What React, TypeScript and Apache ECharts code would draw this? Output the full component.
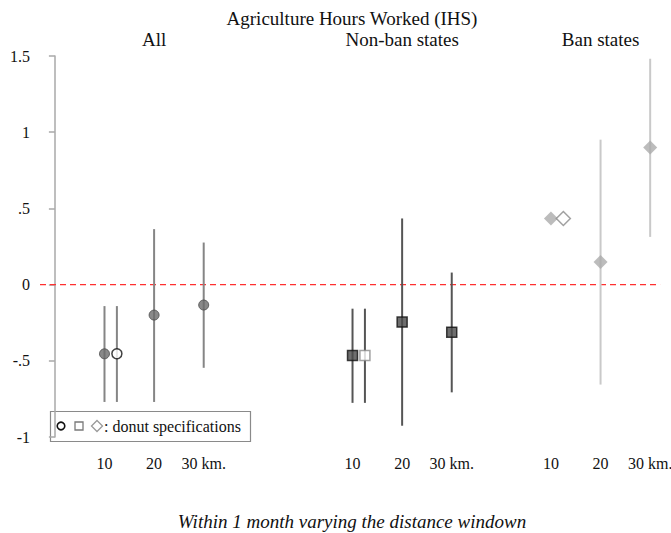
import React, { useEffect, useRef } from "react";
import * as echarts from "echarts";

// Point estimates and 95% CIs; index 1 in each group is the donut specification
const distanceLabels = ["10", "20", "30 km."];
const yTickLabels: Record<string, string> = { "-1": "-1", "-0.5": "-.5", "0": "0", "0.5": ".5", "1": "1", "1.5": "1.5" };

const allX = [1, 1.25, 2, 3];
const allEst = [-0.454, -0.454, -0.2, -0.134];
const allLo = [-0.77, -0.77, -0.77, -0.546];
const allHi = [-0.141, -0.141, 0.364, 0.276];

const nonBanX = [6, 6.25, 7, 8];
const nonBanEst = [-0.465, -0.465, -0.246, -0.312];
const nonBanLo = [-0.776, -0.776, -0.926, -0.707];
const nonBanHi = [-0.158, -0.158, 0.434, 0.079];

const banX = [10, 10.25, 11, 12];
const banEst = [0.434, 0.434, 0.149, 0.899];
const banLo: (number | null)[] = [null, null, -0.656, 0.313];
const banHi: (number | null)[] = [null, null, 0.951, 1.482];

const groupTitles = ["All", "Non-ban states", "Ban states"];

const SERIF = "Liberation Serif";

type Style = { bar: string; fill: string; border: string; borderW: number; symbol: string; size: number; donutBorder: string };

const styles: Style[] = [
  { bar: "#858585", fill: "#6b6b6b", border: "#4a4a4a", borderW: 1, symbol: "circle", size: 10, donutBorder: "#111" },
  { bar: "#555555", fill: "#4a4a4a", border: "#111111", borderW: 1.5, symbol: "rect", size: 10, donutBorder: "#8a8a8a" },
  { bar: "#c9c9c9", fill: "#ababab", border: "#ababab", borderW: 0, symbol: "diamond", size: 14, donutBorder: "#8a8a8a" },
];

function seriesFor(xs: number[], est: number[], lo: (number | null)[], hi: (number | null)[], s: Style) {
  const bars = xs
    .map((x, i) => (lo[i] == null || hi[i] == null ? null : [x, lo[i], hi[i]]))
    .filter((d) => d !== null) as number[][];
  return [
    {
      type: "custom",
      data: bars,
      encode: { x: 0, y: [1, 2] },
      z: 2,
      renderItem: (_p: any, api: any) => {
        const x = api.value(0);
        const a = api.coord([x, api.value(1)]);
        const b = api.coord([x, api.value(2)]);
        return {
          type: "line",
          shape: { x1: a[0], y1: a[1], x2: b[0], y2: b[1] },
          style: { stroke: s.bar, lineWidth: 2 },
        };
      },
    },
    {
      type: "scatter",
      z: 5,
      symbol: s.symbol,
      symbolSize: s.size,
      data: xs.map((x, i) => ({
        value: [x, est[i]],
        itemStyle:
          i === 1
            ? { color: "#ffffff", borderColor: s.donutBorder, borderWidth: 1.5 }
            : { color: s.fill, borderColor: s.border, borderWidth: s.borderW },
      })),
    },
  ];
}

export default function App() {
  const ref = useRef<HTMLDivElement>(null);

  useEffect(() => {
    document.body.style.margin = "0";
    const chart = echarts.init(ref.current!, null, { renderer: "svg" });

    const tickXs = [allX, nonBanX, banX].flatMap((g) => [g[0], g[2], g[3]]);
    const tickText: Record<string, string> = {};
    [allX, nonBanX, banX].forEach((g) => {
      tickText[String(g[0])] = distanceLabels[0];
      tickText[String(g[2])] = distanceLabels[1];
      tickText[String(g[3])] = distanceLabels[2];
    });

    chart.setOption({
      animation: false,
      backgroundColor: "#ffffff",
      textStyle: { fontFamily: SERIF },
      grid: { left: 40, right: 0, top: 56, bottom: 96, containLabel: false, outerBoundsMode: "none" },
      xAxis: {
        type: "value",
        min: -0.3,
        max: 12.42,
        axisLine: { show: false },
        axisTick: { show: false },
        splitLine: { show: false },
        axisLabel: {
          customValues: tickXs,
          formatter: (v: number) => tickText[String(v)] ?? "",
          fontFamily: SERIF,
          fontSize: 16,
          color: "#111",
          margin: 18,
          hideOverlap: false,
        },
      },
      yAxis: {
        type: "value",
        min: -1,
        max: 1.5,
        interval: 0.5,
        splitLine: { show: false },
        axisLine: { show: true, lineStyle: { color: "#a8a8a8", width: 1.5 } },
        axisTick: { show: true, length: 6, lineStyle: { color: "#a8a8a8", width: 1.5 } },
        axisLabel: {
          formatter: (v: number) => yTickLabels[String(v)] ?? String(v),
          fontFamily: SERIF,
          fontSize: 16,
          color: "#111",
          margin: 10,
        },
      },
      series: [
        {
          type: "line",
          data: [
            [-0.3, 0],
            [12.2, 0],
          ],
          symbol: "none",
          z: 1,
          lineStyle: { color: "#ff3030", width: 1.2, type: [6, 4] },
        },
        ...seriesFor(allX, allEst, allLo, allHi, styles[0]),
        ...seriesFor(nonBanX, nonBanEst, nonBanLo, nonBanHi, styles[1]),
        ...seriesFor(banX, banEst, banLo, banHi, styles[2]),
      ],
    });

    // Group headers sit above each group's middle (20 km.) position
    const headerXs = [allX[2], nonBanX[2], banX[2]];
    const legendY = 426;
    const textEl = (text: string, x: number, y: number, extra: any = {}) => ({
      type: "text",
      x,
      y,
      style: {
        text,
        fontFamily: SERIF,
        fontSize: 19,
        fill: "#111",
        align: "center",
        verticalAlign: "middle",
        ...extra,
      },
    });
    chart.setOption({
      graphic: [
        textEl("Agriculture Hours Worked (IHS)", 352, 18),
        ...groupTitles.map((t, i) => {
          const px = chart.convertToPixel({ gridIndex: 0 }, [headerXs[i], 0])[0];
          return textEl(t, px, 39);
        }),
        textEl("Within 1 month varying the distance windown", 352, 521, { fontStyle: "italic" }),
        {
          type: "group",
          z: 10,
          children: [
            {
              type: "rect",
              shape: { x: 50.5, y: 411.5, width: 200, height: 30 },
              style: { fill: "#ffffff", stroke: "#8a8a8a", lineWidth: 1.2 },
            },
            {
              type: "circle",
              shape: { cx: 61, cy: legendY, r: 3.8 },
              style: { fill: "#ffffff", stroke: "#111", lineWidth: 1.6 },
            },
            {
              type: "rect",
              shape: { x: 75, y: legendY - 4, width: 8, height: 8 },
              style: { fill: "#ffffff", stroke: "#7a7a7a", lineWidth: 1.3 },
            },
            {
              type: "polygon",
              shape: { points: [[97, legendY - 5.5], [102.5, legendY], [97, legendY + 5.5], [91.5, legendY]] },
              style: { fill: "#ffffff", stroke: "#9a9a9a", lineWidth: 1.3 },
            },
            textEl(": donut specifications", 104, legendY, { fontSize: 16, align: "left" }),
          ],
        },
      ],
    });

    return () => chart.dispose();
  }, []);

  return <div ref={ref} style={{ width: 671, height: 533 }} />;
}
